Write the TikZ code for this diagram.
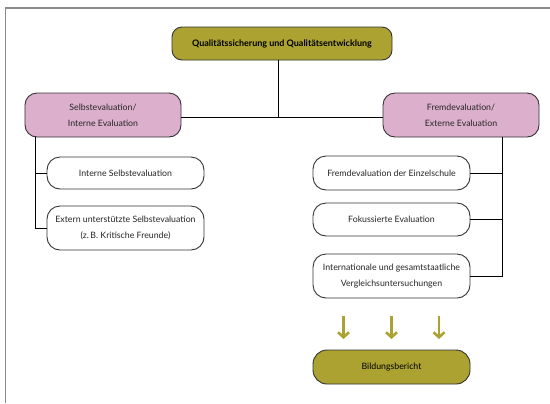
\documentclass[tikz,border=0pt]{standalone}
\usepackage{fontspec}
\setmainfont{Lato}
\usetikzlibrary{arrows.meta}
\definecolor{olive}{HTML}{ABA232}
\definecolor{pinkbox}{HTML}{DCB0CC}
\definecolor{boxline}{HTML}{333333}
\definecolor{framegray}{HTML}{8A8A8A}
\tikzset{
  box/.style={draw=boxline, line width=0.9bp, rounded corners=12bp, inner sep=0pt, align=center, font=\fontsize{8.8}{16}\selectfont, text=black!85},
  topbox/.style={box, fill=olive, minimum width=220bp, minimum height=33bp, rounded corners=10bp, font=\bfseries\fontsize{9}{11}\selectfont, text=black},
  pinkbox/.style={box, fill=pinkbox, minimum width=156bp, minimum height=44bp},
  childbox/.style={box, fill=white, minimum width=157bp, rounded corners=13bp},
  conn/.style={draw=black, line width=0.85bp},
  olivearrow/.style={draw=olive, line width=2.6bp, -{Straight Barb[length=5bp,width=11bp,line width=2.6bp]}}
}
\begin{document}
\begin{tikzpicture}[x=1bp,y=-1bp]
\useasboundingbox (0,0) rectangle (550,403);
% frame
\draw[framegray, line width=1.6bp] (5.5,403) -- (5.5,8) -- (550,8);
% nodes
\node[topbox] (top) at (282,43.5) {Qualitätssicherung und Qualitätsentwicklung};
\node[pinkbox] (lp) at (103,115) {Selbstevaluation/\\Interne Evaluation};
\node[pinkbox] (rp) at (461,115) {Fremdevaluation/\\Externe Evaluation};
\node[childbox, minimum height=32bp] (lc1) at (125.5,173) {Interne Selbstevaluation};
\node[childbox, minimum height=44bp] (lc2) at (125.5,228) {Extern unterstützte Selbstevaluation\\(z.\,B. Kritische Freunde)};
\node[childbox, minimum height=34bp] (rc1) at (391.5,173) {Fremdevaluation der Einzelschule};
\node[childbox, minimum height=33bp] (rc2) at (391.5,219.5) {Fokussierte Evaluation};
\node[childbox, minimum height=44bp] (rc3) at (391.5,276) {Internationale und gesamtstaatliche\\Vergleichsuntersuchungen};
\node[topbox, fill=olive, minimum width=157bp, minimum height=34bp, rounded corners=14bp, font=\fontsize{8.8}{10}\selectfont] (bb) at (391.5,367) {Bildungsbericht};
% helper coordinates
\coordinate (hub) at (278,117.5);
\coordinate (lx) at (35.5,0);
\coordinate (rx) at (502,0);
% connectors
\draw[conn] (hub |- top.south) -- (hub);
\draw[conn] (lp.east |- hub) -- (rp.west |- hub);
\draw[conn] (lx |- lp.south) -- (lx |- lc2.west) -- (lc2.west);
\draw[conn] (lx |- lc1.west) -- (lc1.west);
\draw[conn] (rx |- rp.south) -- (rx |- rc3.east) -- (rc3.east);
\draw[conn] (rx |- rc1.east) -- (rc1.east);
\draw[conn] (rx |- rc2.east) -- (rc2.east);
% arrows
\coordinate (a1s) at (343.5,316); \coordinate (a1e) at (343.5,339);
\coordinate (a2s) at (391.5,316); \coordinate (a2e) at (391.5,339);
\coordinate (a3s) at (439,316); \coordinate (a3e) at (439,339);
\draw[olivearrow] (a1s) -- (a1e);
\draw[olivearrow] (a2s) -- (a2e);
\draw[olivearrow] (a3s) -- (a3e);
\end{tikzpicture}
\end{document}
